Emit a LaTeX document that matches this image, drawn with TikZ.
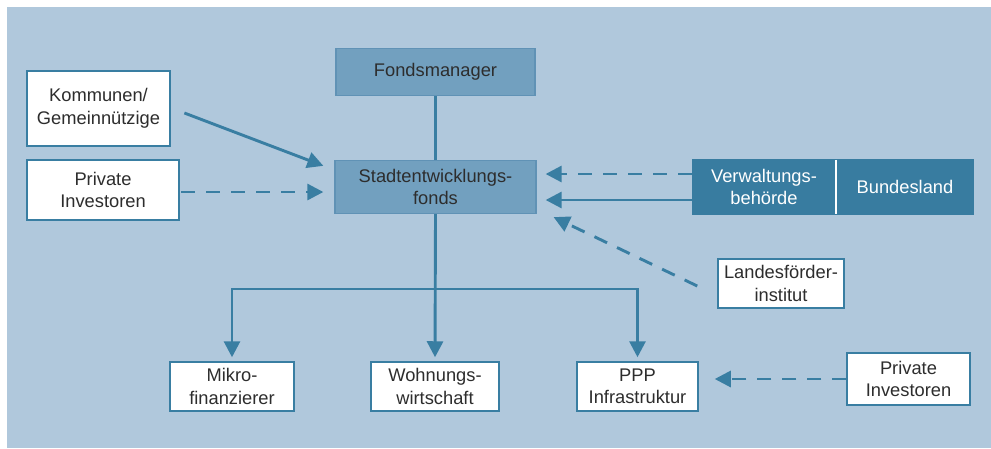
\documentclass[tikz,border=0pt]{standalone}
\usepackage{fontspec}
\setmainfont{Liberation Sans}
\usetikzlibrary{arrows.meta,calc}

\definecolor{bgblue}{RGB}{176,200,220}
\definecolor{fundblue}{RGB}{114,160,191}
\definecolor{fundedge}{RGB}{96,146,181}
\definecolor{deepblue}{RGB}{56,124,160}
\definecolor{linkblue}{RGB}{57,126,162}
\definecolor{txt}{RGB}{45,45,45}

\tikzset{
  base/.style={align=center, inner sep=0pt, text=txt},
  fundbox/.style={base, fill=fundblue, draw=fundedge, line width=1.3pt},
  darkbox/.style={base, fill=deepblue, text=white},
  bigwhite/.style={base, fill=white, draw=linkblue, line width=2.8pt},
  smallwhite/.style={base, fill=white, draw=linkblue, line width=1.5pt},
  link/.style={draw=linkblue, line width=2.9pt},
  flow/.style={link, -{Triangle[length=16pt,width=16pt]}},
  dflow/.style={flow, dash pattern=on 14pt off 11pt},
}

\begin{document}
\begin{tikzpicture}[x=1pt,y=-1pt,font=\fontsize{18.3}{22.5}\selectfont]
  % canvas and backdrop
  \useasboundingbox (0,0) rectangle (991,448);
  \fill[white] (0,0) rectangle (991,448);
  \fill[bgblue] (7,7) rectangle (991,448);

  % fund and its manager
  \node[fundbox, minimum width=199pt, minimum height=47pt] (fm) at (435.5,72) {Fondsmanager};
  \node[fundbox, minimum width=201pt, minimum height=53pt] (sf) at (435.5,187) {Stadtentwicklungs-\\fonds};

  % investors on the left
  \node[bigwhite, minimum width=143pt, minimum height=75pt] (ko) at (98.5,108.5) {Kommunen/\\Gemeinnützige};
  \node[bigwhite, minimum width=152pt, minimum height=60pt] (pl) at (103,190) {Private\\Investoren};

  % managing authority of the federal state
  \node[darkbox, minimum width=144pt, minimum height=56pt] (vb) at (764,187) {Verwaltungs-\\behörde};
  \node[darkbox, minimum width=138pt, minimum height=56pt] (bl) at (905,187) {Bundesland};
  \draw[white, line width=2pt] ($(vb.north east)+(0,1)$) -- ($(vb.south east)+(0,-1)$);

  % state promotional institute
  \node[smallwhite, minimum width=126pt, minimum height=49pt] (lf) at (781,283.5) {Landesförder-\\institut};

  % urban projects
  \node[smallwhite, minimum width=124pt, minimum height=49pt] (mk) at (232,386.5) {Mikro-\\finanzierer};
  \node[smallwhite, minimum width=128pt, minimum height=49pt] (ww) at (435,386.5) {Wohnungs-\\wirtschaft};
  \node[smallwhite, minimum width=121pt, minimum height=49pt] (pp) at (637.5,386.5) {PPP\\Infrastruktur};
  \node[smallwhite, minimum width=123pt, minimum height=52pt] (pr) at (908.5,379) {Private\\Investoren};

  % manager to fund
  \draw[link] (fm.south) -- (sf.north);

  % inflows to the fund
  \draw[flow] ($(ko.east)+(13,4.5)$) -- ($(sf.north west)+(-11,6)$);
  \draw[dflow] ($(pl.east)+(1,2)$) -- ($(sf.west)+(-11,5)$);
  \draw[dflow] ($(vb.west)+(0,-13)$) -- ($(sf.east)+(9,-13)$);
  \draw[flow] ($(vb.west)+(0,13)$) -- ($(sf.east)+(9,13)$);
  \draw[dflow] ($(lf.west)+(-20,2.5)$) -- ($(sf.south east)+(17,3)$);

  % distribution to projects
  \coordinate (bus) at (435,289);
  \draw[flow, shorten >=4pt] (sf.south) -- (ww.north);
  \draw[flow, shorten >=4pt] (bus) -- (bus -| mk.north) -- (mk.north);
  \draw[flow, shorten >=4pt] (bus) -- (bus -| pp.north) -- (pp.north);

  % private investors into PPP
  \draw[dflow, shorten >=16pt] (pr.west) -- (pr.west -| pp.east);
\end{tikzpicture}
\end{document}
